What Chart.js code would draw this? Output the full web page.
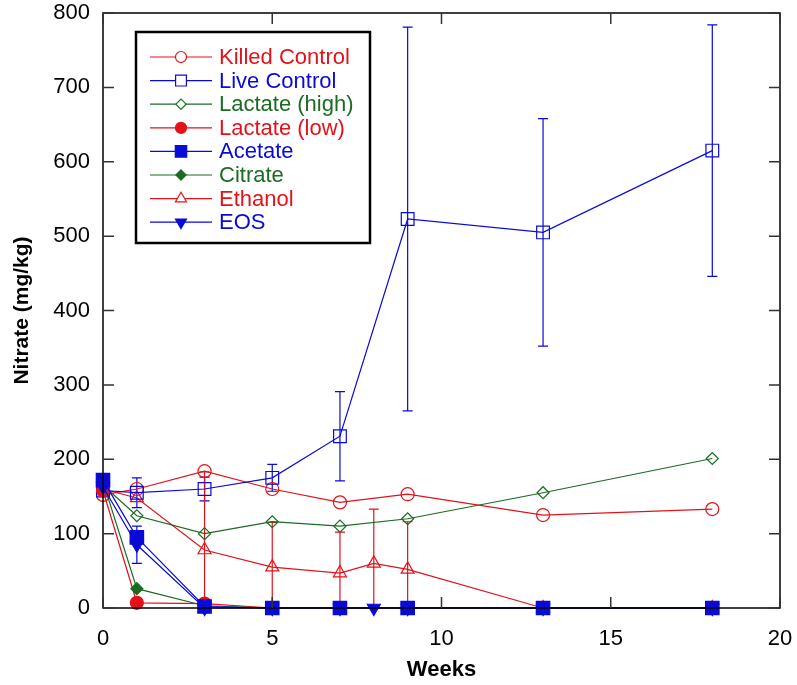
<!DOCTYPE html>
<html>
<head>
<meta charset="utf-8">
<script src="https://cdn.jsdelivr.net/npm/chart.js@4.4.1/dist/chart.umd.min.js"></script>
<style>
  html, body { margin: 0; padding: 0; background: #fff; }
  #wrap { width: 797px; height: 685px; position: relative; }
</style>
</head>
<body>
<div id="wrap"><canvas id="nitrate"></canvas></div>
<script>
// --- data (weeks / nitrate mg/kg) ---
const weeks = [0, 1, 3, 5, 7, 9, 13, 18];
const weeksExtra = [0, 1, 3, 5, 7, 8, 9, 13, 18];

const killedControl = [152, 160, 184, 160, 142, 153, 125, 133];
const liveControl = [158, 155, 160, 175, 231, 523, 505, 615];
const liveControlErr = [null, 20, 16, 18, 60, 258, 153, 169];
const lactateHigh = [165, 124, 100, 116, 110, 120, 155, 201];
const lactateLow = [158, 7, 6, 0, 0, 0, 0, 0];
const acetate = [172, 95, 2, 0, 0, 0, 0, 0];
const citrate = [170, 26, 3, 0, 0, 0, 0, 0];
const ethanol = [160, 148, 78, 55, 47, 60, 52, 0, 0];
const ethanolErr = [null, null, 105, 60, 55, 73, 64, null, null];
const eos = [163, 85, 0, 0, 0, 0, 0, 0, 0];
const eosErr = [null, 25, null, null, null, null, null, null, null];

const xTicks = [0, 5, 10, 15, 20];
const yTicks = [0, 100, 200, 300, 400, 500, 600, 700, 800];

const RED = "#e3121a";
const BLUE = "#0a0ad8";
const GREEN = "#1b6b22";
const FONT = "'Liberation Sans', Arial, sans-serif";

function pts(xs, ys) {
  return xs.map((x, i) => ({ x: x, y: ys[i] }));
}

// name, color, x, y, err, point style, filled, radius, rotation, draw order
const series = [
  ["Killed Control", RED, weeks, killedControl, null, "circle", false, 6.5, 0, 5],
  ["Live Control", BLUE, weeks, liveControl, liveControlErr, "rect", false, 9, 0, 4],
  ["Lactate (high)", GREEN, weeks, lactateHigh, null, "rectRot", false, 6, 0, 6],
  ["Lactate (low)", RED, weeks, lactateLow, null, "circle", true, 6.5, 0, 3],
  ["Acetate", BLUE, weeks, acetate, null, "rect", true, 9.5, 0, 0],
  ["Citrate", GREEN, weeks, citrate, null, "rectRot", true, 6, 0, 2],
  ["Ethanol", RED, weeksExtra, ethanol, ethanolErr, "triangle", false, 7.5, 0, 7],
  ["EOS", BLUE, weeksExtra, eos, eosErr, "triangle", true, 7.5, 180, 1],
];

const datasets = series.map(s => ({
  label: s[0],
  data: pts(s[2], s[3]),
  errors: s[4],
  filled: s[6],
  borderColor: s[1],
  backgroundColor: s[6] ? s[1] : "#fff",
  pointBorderColor: s[1],
  pointBackgroundColor: s[6] ? s[1] : "rgba(255,255,255,0)",
  pointStyle: s[5],
  pointRadius: s[7],
  pointRotation: s[8],
  pointBorderWidth: 1.2,
  borderWidth: 1.2,
  showLine: true,
  tension: 0,
  order: s[9],
  clip: false,
}));

// error bars + frame with inward ticks
const errorBars = {
  id: "errorBars",
  beforeDatasetsDraw(chart) {
    const ctx = chart.ctx;
    const xs = chart.scales.x, ys = chart.scales.y;
    const a = chart.chartArea;
    ctx.save();
    ctx.beginPath();
    ctx.rect(a.left, a.top - 20, a.right - a.left, a.bottom - a.top + 20);
    ctx.clip();
    chart.data.datasets.forEach(ds => {
      if (!ds.errors) return;
      ctx.strokeStyle = ds.borderColor;
      ctx.lineWidth = 1.2;
      ds.data.forEach((p, i) => {
        const e = ds.errors[i];
        if (e == null) return;
        const px = xs.getPixelForValue(p.x);
        const hi = ys.getPixelForValue(p.y + e);
        const lo = ys.getPixelForValue(Math.max(p.y - e, -50));
        ctx.beginPath();
        ctx.moveTo(px, hi); ctx.lineTo(px, lo);
        ctx.moveTo(px - 5, hi); ctx.lineTo(px + 5, hi);
        if (p.y - e > 0) { ctx.moveTo(px - 5, lo); ctx.lineTo(px + 5, lo); }
        ctx.stroke();
      });
    });
    ctx.restore();
  },
  afterDraw(chart) {
    const ctx = chart.ctx;
    const a = chart.chartArea;
    const xs = chart.scales.x, ys = chart.scales.y;
    ctx.save();
    ctx.strokeStyle = "#000";
    ctx.lineWidth = 1.5;
    ctx.strokeRect(a.left, a.top, a.right - a.left, a.bottom - a.top);
    ctx.strokeStyle = "#333";
    ctx.lineWidth = 1.5;
    ctx.beginPath();
    xTicks.forEach(v => {
      const px = xs.getPixelForValue(v);
      ctx.moveTo(px, a.bottom); ctx.lineTo(px, a.bottom - 11);
      ctx.moveTo(px, a.top); ctx.lineTo(px, a.top + 11);
    });
    yTicks.forEach(v => {
      const py = ys.getPixelForValue(v);
      ctx.moveTo(a.left, py); ctx.lineTo(a.left + 11, py);
      ctx.moveTo(a.right, py); ctx.lineTo(a.right - 11, py);
    });
    ctx.stroke();
    ctx.restore();
  },
};

// boxed legend with line + marker samples
const boxLegend = {
  id: "boxLegend",
  afterDraw(chart) {
    const ctx = chart.ctx;
    const bx = 136, by = 32, bw = 234, bh = 211;
    ctx.save();
    ctx.fillStyle = "#fff";
    ctx.fillRect(bx, by, bw, bh);
    ctx.strokeStyle = "#000";
    ctx.lineWidth = 2.5;
    ctx.strokeRect(bx, by, bw, bh);
    chart.data.datasets.forEach((ds, i) => {
      const y = 57 + i * 23.6;
      ctx.strokeStyle = ds.borderColor;
      ctx.lineWidth = 1.2;
      ctx.beginPath();
      ctx.moveTo(150, y); ctx.lineTo(212, y);
      ctx.stroke();
      ctx.fillStyle = ds.filled ? ds.borderColor : "#fff";
      Chart.helpers.drawPoint(ctx, {
        pointStyle: ds.pointStyle,
        rotation: ds.pointRotation,
        radius: ds.pointRadius * 0.85,
        borderWidth: 1.2,
      }, 181, y);
      ctx.fillStyle = ds.borderColor;
      ctx.font = "22px " + FONT;
      ctx.textBaseline = "middle";
      ctx.fillText(ds.label, 219, y + 1);
    });
    ctx.restore();
  },
};

new Chart(document.getElementById("nitrate"), {
  type: "scatter",
  data: { datasets: datasets },
  plugins: [errorBars, boxLegend],
  options: {
    responsive: true,
    maintainAspectRatio: false,
    animation: false,
    layout: { padding: { top: 13, right: 17, left: 0, bottom: 0 } },
    plugins: { legend: { display: false }, tooltip: { enabled: false } },
    scales: {
      x: {
        type: "linear",
        min: 0, max: 20,
        afterBuildTicks: s => { s.ticks = xTicks.map(v => ({ value: v })); },
        afterFit: s => { s.height = 77; s.paddingLeft = 0; s.paddingRight = 0; },
        grid: { display: false, drawTicks: false },
        border: { display: false },
        ticks: { color: "#000", padding: 18, font: { family: FONT, size: 22 } },
        title: {
          display: true, text: "Weeks", color: "#000",
          padding: { top: 4, bottom: 2 },
          font: { family: FONT, size: 22, weight: "bold" },
        },
      },
      y: {
        type: "linear",
        min: 0, max: 800,
        afterBuildTicks: s => { s.ticks = yTicks.map(v => ({ value: v })); },
        afterFit: s => { s.width = 103; s.paddingTop = 0; s.paddingBottom = 0; },
        grid: { display: false, drawTicks: false },
        border: { display: false },
        ticks: { color: "#000", padding: 13, font: { family: FONT, size: 22 } },
        title: {
          display: true, text: "Nitrate (mg/kg)", color: "#000",
          padding: { bottom: 0, top: 10 },
          font: { family: FONT, size: 21, weight: "bold" },
        },
      },
    },
  },
});
</script>
</body>
</html>
